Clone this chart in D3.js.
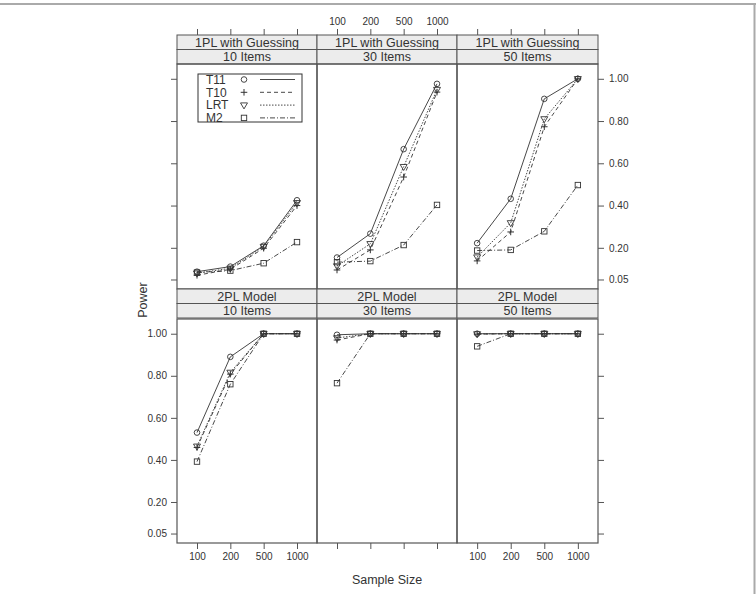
<!DOCTYPE html>
<html><head><meta charset="utf-8">
<script src="https://cdn.jsdelivr.net/npm/d3@7/dist/d3.min.js"></script>
<style>body{margin:0;background:#fff}svg{display:block}text{font-family:"Liberation Sans",Arial,sans-serif;fill:#333}</style>
</head><body><svg id="c" width="756" height="594"></svg>
<script>
// ---- data ----
const sampleSizes = ["100", "200", "500", "1000"];
const models = ["1PL with Guessing", "2PL Model"];
const itemCounts = ["10 Items", "30 Items", "50 Items"];
const methods = ["T11", "T10", "LRT", "M2"];
const yTicks = [0.05, 0.20, 0.40, 0.60, 0.80, 1.00];
// values per panel: [1PL-10, 1PL-30, 1PL-50, 2PL-10, 2PL-30, 2PL-50]
const t11 = [[0.087, 0.111, 0.210, 0.425], [0.154, 0.267, 0.667, 0.976], [0.222, 0.432, 0.905, 1.000],
             [0.530, 0.890, 1.000, 1.000], [0.995, 1.000, 1.000, 1.000], [1.000, 1.000, 1.000, 1.000]];
const t10 = [[0.070, 0.098, 0.198, 0.400], [0.095, 0.190, 0.535, 0.937], [0.138, 0.275, 0.773, 1.000],
             [0.459, 0.808, 1.000, 1.000], [0.970, 1.000, 1.000, 1.000], [0.998, 1.000, 1.000, 1.000]];
const lrt = [[0.080, 0.103, 0.206, 0.413], [0.114, 0.219, 0.584, 0.949], [0.156, 0.318, 0.810, 1.000],
             [0.465, 0.816, 1.000, 1.000], [0.980, 1.000, 1.000, 1.000], [0.999, 1.000, 1.000, 1.000]];
const m2  = [[0.083, 0.092, 0.127, 0.227], [0.132, 0.137, 0.213, 0.403], [0.187, 0.190, 0.278, 0.497],
             [0.392, 0.760, 1.000, 1.000], [0.765, 1.000, 1.000, 1.000], [0.940, 1.000, 1.000, 1.000]];
const seriesValues = [t11, t10, lrt, m2];

// ---- styles ----
const ink = "#333";
const frame = "#555";
const dashes = [null, "4,3", "1.5,1.5", "5,2,1,2"];

const svg = d3.select("#c");
// outer image frame
svg.append("line").attr("x1", 0).attr("x2", 756).attr("y1", 4).attr("y2", 4).attr("stroke", "#aaa").attr("stroke-width", 2);
svg.append("line").attr("x1", 754.5).attr("x2", 754.5).attr("y1", 4).attr("y2", 594).attr("stroke", "#aaa").attr("stroke-width", 2);

const colX = [177, 317, 457, 598];
const rows = [{stripTop: 35, panelTop: 64, panelBottom: 289}, {stripTop: 289, panelTop: 319, panelBottom: 543}];
const stripH = 14.5;

function symbol(g, m, x, y) {
  const s = g.append("g").attr("transform", `translate(${x},${y})`);
  if (m === 0) s.append("circle").attr("r", 2.8).attr("fill", "none").attr("stroke", ink).attr("stroke-width", 0.9);
  else if (m === 1) s.append("path").attr("d", "M-3.3,0H3.3M0,-3.3V3.3").attr("stroke", ink).attr("stroke-width", 1);
  else if (m === 2) s.append("path").attr("d", "M-3.5,-2.2L3.5,-2.2L0,3.8Z").attr("fill", "none").attr("stroke", ink).attr("stroke-width", 0.9);
  else s.append("rect").attr("x", -2.7).attr("y", -2.7).attr("width", 5.4).attr("height", 5.4).attr("fill", "none").attr("stroke", ink).attr("stroke-width", 0.9);
}

function styleAxis(a) {
  a.select(".domain").remove();
  a.selectAll("line").attr("stroke", frame);
  a.selectAll("text").attr("font-size", 10).attr("fill", ink).attr("font-family", "Liberation Sans, Arial, sans-serif");
}

rows.forEach((r, ri) => {
  const y = d3.scaleLinear().domain([0.005, 1.07]).range([r.panelBottom, r.panelTop]);
  for (let ci = 0; ci < 3; ci++) {
    const x0 = colX[ci], x1 = colX[ci + 1];
    const x = d3.scalePoint().domain(sampleSizes).range([x0, x1]).padding(0.6);
    const pi = ri * 3 + ci;
    const g = svg.append("g");
    // strips
    [models[ri], itemCounts[ci]].forEach((lab, k) => {
      const sy = r.stripTop + k * stripH;
      g.append("rect").attr("x", x0).attr("y", sy).attr("width", x1 - x0).attr("height", stripH)
        .attr("fill", "#ececec").attr("stroke", frame).attr("stroke-width", 1);
      g.append("text").attr("x", (x0 + x1) / 2).attr("y", sy + stripH / 2 + 4.3).attr("text-anchor", "middle")
        .attr("font-size", 12.5).text(lab);
    });
    // panel
    g.append("rect").attr("x", x0).attr("y", r.panelTop).attr("width", x1 - x0).attr("height", r.panelBottom - r.panelTop)
      .attr("fill", "none").attr("stroke", frame).attr("stroke-width", 1.2);
    // series
    seriesValues.forEach((sv, m) => {
      const vals = sv[pi];
      const line = d3.line().x((d, i) => x(sampleSizes[i])).y(d => y(d));
      const p = g.append("path").attr("d", line(vals)).attr("fill", "none").attr("stroke", ink).attr("stroke-width", 0.9);
      if (dashes[m]) p.attr("stroke-dasharray", dashes[m]);
      vals.forEach((v, i) => symbol(g, m, x(sampleSizes[i]), y(v)));
    });
    // x axes
    if (ri === 1) {
      styleAxis(g.append("g").attr("transform", `translate(0,${r.panelBottom})`)
        .call(d3.axisBottom(x).tickSize(6).tickPadding(4).tickFormat(ci === 1 ? "" : d => d)));
    } else {
      styleAxis(g.append("g").attr("transform", `translate(0,${r.stripTop})`)
        .call(d3.axisTop(x).tickSize(6).tickPadding(4).tickFormat(ci === 1 ? d => d : "")));
    }
    // y axes
    if (ci === 0) {
      styleAxis(g.append("g").attr("transform", `translate(${x0},0)`)
        .call(d3.axisLeft(y).tickValues(yTicks).tickSize(6).tickPadding(4).tickFormat(ri === 1 ? d3.format(".2f") : "")));
    }
    if (ci === 2) {
      styleAxis(g.append("g").attr("transform", `translate(${x1},0)`)
        .call(d3.axisRight(y).tickValues(yTicks).tickSize(6).tickPadding(5).tickFormat(ri === 0 ? d3.format(".2f") : "")));
    }
  }
});

// legend
const lg = svg.append("g");
lg.append("rect").attr("x", 198).attr("y", 74).attr("width", 104).attr("height", 48)
  .attr("fill", "#fff").attr("stroke", ink).attr("stroke-width", 1);
methods.forEach((m, i) => {
  const cy = 79.5 + i * 12.8;
  lg.append("text").attr("x", 206).attr("y", cy + 4.2).attr("font-size", 12).text(m);
  symbol(lg, i, 244, cy);
  const l = lg.append("line").attr("x1", 260).attr("x2", 295).attr("y1", cy).attr("y2", cy)
    .attr("stroke", ink).attr("stroke-width", 0.9);
  if (dashes[i]) l.attr("stroke-dasharray", dashes[i]);
});

// axis titles
svg.append("text").attr("x", 387).attr("y", 584).attr("text-anchor", "middle").attr("font-size", 12.5).text("Sample Size");
svg.append("text").attr("transform", "translate(147,300) rotate(-90)").attr("text-anchor", "middle").attr("font-size", 12.5).text("Power");
</script></body></html>
